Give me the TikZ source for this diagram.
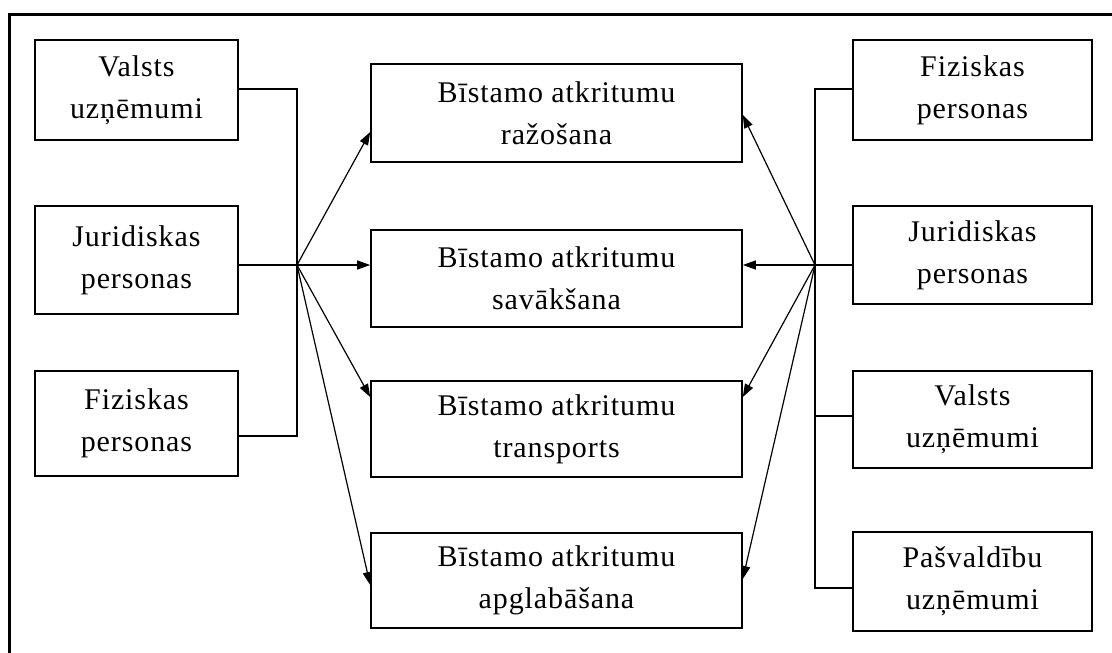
\documentclass[tikz,border=0pt]{standalone}
\usepackage{fontspec}
\setmainfont[LetterSpace=3]{Liberation Serif}
\usetikzlibrary{arrows.meta}
\begin{document}
\begin{tikzpicture}[x=1pt,y=-1pt,
  box/.style={draw,line width=1.6pt,inner sep=0pt,align=center,
    font=\fontsize{30}{42}\selectfont},
  lbox/.style={box,minimum width=203pt},
  mbox/.style={box,minimum width=371pt},
  rbox/.style={box,minimum width=239pt},
  conn/.style={line width=1.2pt},
  arr/.style={line width=1.2pt,-{Triangle[length=13pt,width=9pt]}},
  frame/.style={line width=3pt}]
\useasboundingbox (0,0) rectangle (1112,653);
\draw[frame] (9,653) -- (9,14) -- (1112,14);
% left boxes
\node[lbox,minimum height=100pt] (l1) at (136.5,90) {Valsts\\uzņēmumi};
\node[lbox,minimum height=108pt] (l2) at (136.5,260) {Juridiskas\\personas};
\node[lbox,minimum height=105pt] (l3) at (136.5,423.5) {Fiziskas\\personas};
% middle boxes
\node[mbox,minimum height=98pt] (m1) at (556.5,113) {Bīstamo atkritumu\\ražošana};
\node[mbox,minimum height=97pt] (m2) at (556.5,278.5) {Bīstamo atkritumu\\savākšana};
\node[mbox,minimum height=96pt] (m3) at (556.5,429) {Bīstamo atkritumu\\transports};
\node[mbox,minimum height=95pt] (m4) at (556.5,580.5) {Bīstamo atkritumu\\apglabāšana};
% right boxes
\node[rbox,minimum height=100pt] (r1) at (972.5,90) {Fiziskas\\personas};
\node[rbox,minimum height=98pt] (r2) at (972.5,255) {Juridiskas\\personas};
\node[rbox,minimum height=97pt] (r3) at (972.5,419.5) {Valsts\\uzņēmumi};
\node[rbox,minimum height=99pt] (r4) at (972.5,581.5) {Pašvaldību\\uzņēmumi};
% hub coordinates
\coordinate (ltop) at (297,89);
\coordinate (lhub) at (297,265);
\coordinate (lbot) at (297,436);
\coordinate (rtop) at (815,89);
\coordinate (rhub) at (815,265);
\coordinate (rthr) at (815,416);
\coordinate (rbot) at (815,588);
% left connectors
\draw[conn] (l1.east |- ltop) -- (ltop) -- (lbot) -- (l3.east |- lbot);
\draw[conn] (l2.east |- lhub) -- (lhub);
\draw[arr] (lhub) -- ([yshift=-19pt]m1.west);
\draw[arr] (lhub) -- (m2.west |- lhub);
\draw[arr] (lhub) -- ([yshift=32pt]m3.west);
\draw[arr] (lhub) -- ([yshift=-4.5pt]m4.west);
% right connectors
\draw[conn] (r1.west |- rtop) -- (rtop) -- (rbot) -- (r4.west |- rbot);
\draw[conn] (rhub) -- (r2.west |- rhub);
\draw[conn] (rthr) -- (r3.west |- rthr);
\draw[arr] (rhub) -- ([yshift=-2pt]m1.east);
\draw[arr] (rhub) -- (m2.east |- rhub);
\draw[arr] (rhub) -- ([yshift=32pt]m3.east);
\draw[arr] (rhub) -- ([yshift=1.5pt]m4.east);
\end{tikzpicture}
\end{document}
